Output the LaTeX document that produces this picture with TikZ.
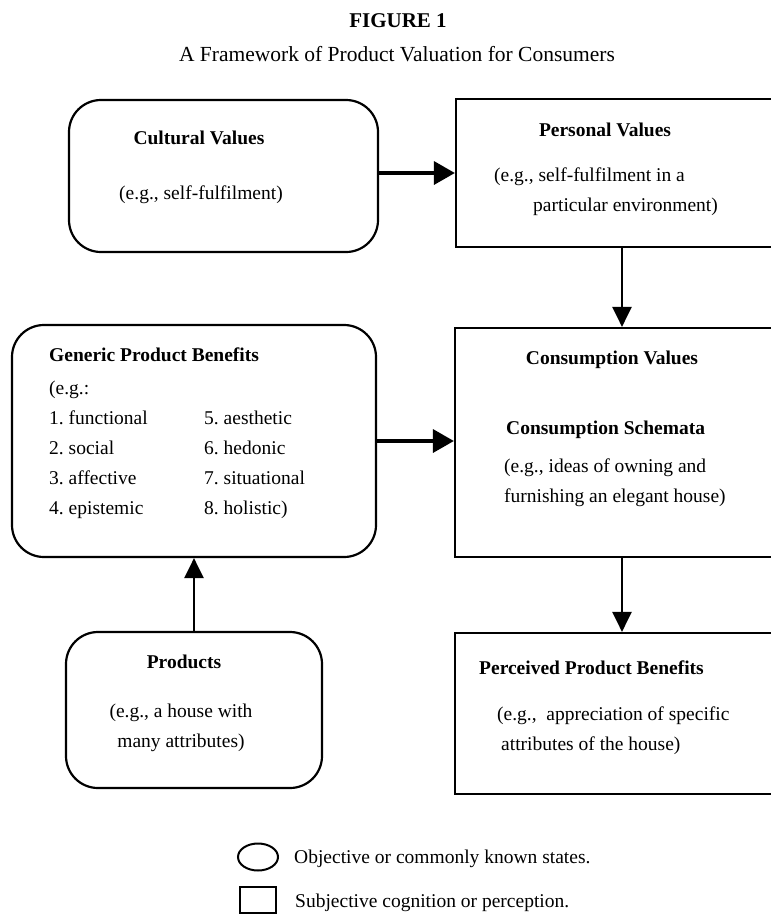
\documentclass[tikz,border=0pt]{standalone}
\usepackage{fontspec}
\setmainfont{Liberation Serif}
\usetikzlibrary{shapes.geometric, arrows.meta, positioning}
\frenchspacing
\tikzstyle{objbox} = [rectangle, rounded corners=32pt, draw, line width=2.2pt, inner sep=0pt]
\tikzstyle{subjbox} = [rectangle, draw, line width=2.2pt, inner sep=0pt]
\tikzstyle{txt} = [inner sep=0pt, font=\fontsize{19.5}{30}\selectfont]
\tikzstyle{headtxt} = [inner sep=0pt, font=\fontsize{19.5}{30}\selectfont\bfseries]
\tikzstyle{arrow} = [line width=3.5pt, -{Triangle[length=21pt, width=23pt]}]
\tikzstyle{thinarrow} = [line width=2.3pt, -{Triangle[length=20pt, width=19pt]}]

\begin{document}
\begin{tikzpicture}[x=1pt, y=-1pt]
    \clip (0,0) rectangle (771,914);

    % Title
    \node[font=\fontsize{21}{25}\selectfont\bfseries] (fig) at (398,21) {FIGURE 1};
    \node[font=\fontsize{21.5}{25}\selectfont] (caption) at (397,54) {A Framework of Product Valuation for Consumers};

    % Boxes
    \node[objbox, minimum width=309pt, minimum height=152pt] (cult) at (223.5,176) {};
    \node[subjbox, minimum width=332pt, minimum height=148pt] (pers) at (622,173) {};
    \node[objbox, minimum width=364pt, minimum height=232pt] (gen) at (194,441) {};
    \node[subjbox, minimum width=334pt, minimum height=229pt] (cons) at (622,442.5) {};
    \node[objbox, minimum width=256pt, minimum height=156pt] (prod) at (194,710) {};
    \node[subjbox, minimum width=334pt, minimum height=161pt] (perc) at (622,713.5) {};

    % Box texts
    \node[headtxt] (cult-head) at (199,138) {Cultural Values};
    \node[txt] (cult-eg) at (201,195) {(e.g., self-fulfilment)};

    \node[headtxt] (pers-head) at (605,130) {Personal Values};
    \node[txt, anchor=west, align=left] (pers-eg) at (494,192) {(e.g., self-fulfilment in a\\\hspace*{39pt}particular environment)};

    \node[headtxt, anchor=west] (gen-head) at (49,355) {Generic Product Benefits};
    \node[txt, anchor=west] (gen-eg) at (49,390) {(e.g.:};
    \node[txt, anchor=west, align=left] (gen-list-a) at (49,465) {1. functional\\2. social\\3. affective\\4. epistemic};
    \node[txt, anchor=west, align=left] (gen-list-b) at (204,465) {5. aesthetic\\6. hedonic\\7. situational\\8. holistic)};

    \node[headtxt] (cons-head) at (612,360) {Consumption Values};
    \node[headtxt, anchor=west] (cons-schema) at (506,430) {Consumption Schemata};
    \node[txt, anchor=west, align=left] (cons-eg) at (504,483) {(e.g., ideas of owning and\\furnishing an elegant house)};

    \node[headtxt] (prod-head) at (184,662) {Products};
    \node[txt, align=center] (prod-eg) at (181,728) {(e.g., a house with\\many attributes)};

    \node[headtxt, anchor=west] (perc-head) at (479,668) {Perceived Product Benefits};
    \node[txt, anchor=west, align=left] (perc-eg) at (497,731) {(e.g.,\ \ appreciation of specific\\\hspace*{4pt}attributes of the house)};

    % Arrows
    \draw[arrow] (cult.east |- pers.west) -- (pers.west);
    \draw[thinarrow] (pers.south) -- (cons.north);
    \draw[arrow] (gen.east) -- (gen.east -| cons.west);
    \draw[thinarrow] (cons.south) -- (perc.north);
    \draw[thinarrow] (prod.north) -- (gen.south);

    % Legend
    \node[ellipse, draw, line width=2pt, minimum width=40pt, minimum height=27pt, inner sep=0pt] (key-obj) at (258,857) {};
    \node[txt, anchor=west] (key-obj-text) at (294,859) {Objective or commonly known states.};
    \node[subjbox, line width=1.8pt, minimum width=36pt, minimum height=26pt] (key-subj) at (258,900) {};
    \node[txt, anchor=west] (key-subj-text) at (295,903) {Subjective cognition or perception.};
\end{tikzpicture}
\end{document}
